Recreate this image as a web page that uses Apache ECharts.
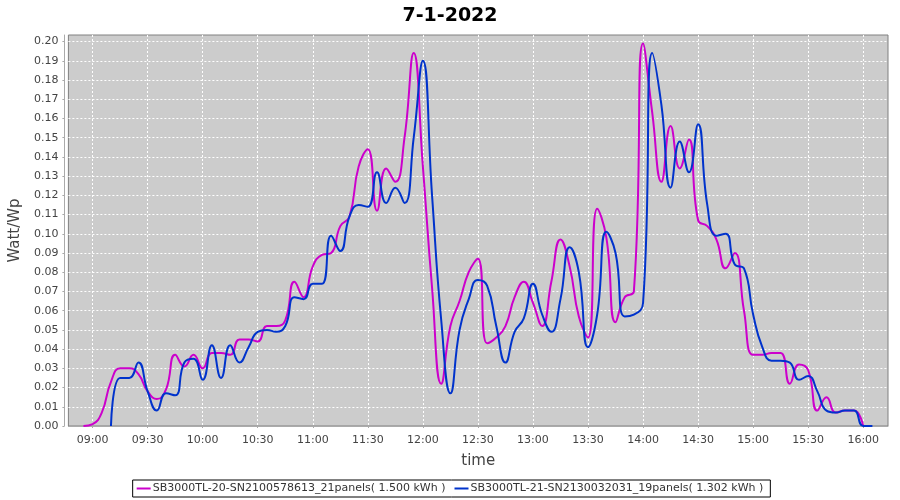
<!DOCTYPE html>
<html><head><meta charset="utf-8">
<script src="https://cdn.jsdelivr.net/npm/echarts@6/dist/echarts.min.js"></script>
<style>html,body{margin:0;padding:0;background:#fff}#c{width:900px;height:500px}</style>
</head><body><div id="c"></div>
<script>
const titleText = '7-1-2022';
const seriesNames = [
  'SB3000TL-20-SN2100578613_21panels( 1.500 kWh )',
  'SB3000TL-21-SN2130032031_19panels( 1.302 kWh )'
];
const timesA = ['08:55','09:00','09:05','09:10','09:15','09:20','09:25','09:30','09:35','09:40','09:45','09:50','09:55',
  '10:00','10:05','10:10','10:15','10:20','10:25','10:30','10:35','10:40','10:45','10:50','10:55',
  '11:00','11:05','11:10','11:15','11:20','11:25','11:30','11:35','11:40','11:45','11:50','11:55',
  '12:00','12:05','12:10','12:15','12:20','12:25','12:30','12:35','12:40','12:45','12:50','12:55',
  '13:00','13:05','13:10','13:15','13:20','13:25','13:30','13:35','13:40','13:45','13:50','13:55',
  '14:00','14:05','14:10','14:15','14:20','14:25','14:30','14:35','14:40','14:45','14:50','14:55',
  '15:00','15:05','15:10','15:15','15:20','15:25','15:30','15:35','15:40','15:45','15:50','15:55','16:00'];
const valuesA = [0.000,0.001,0.007,0.023,0.030,0.030,0.027,0.018,0.014,0.019,0.037,0.031,0.037,
  0.030,0.038,0.038,0.037,0.045,0.045,0.044,0.052,0.052,0.055,0.075,0.067,
  0.083,0.089,0.090,0.104,0.109,0.135,0.144,0.112,0.134,0.127,0.150,0.194,
  0.135,0.072,0.022,0.052,0.065,0.080,0.087,0.043,0.046,0.052,0.067,0.075,
  0.064,0.052,0.075,0.097,0.083,0.057,0.046,0.113,0.098,0.054,0.067,0.070,
  0.199,0.163,0.127,0.156,0.134,0.149,0.107,0.104,0.097,0.082,0.090,0.060,
  0.037,0.037,0.038,0.038,0.022,0.032,0.029,0.008,0.015,0.007,0.008,0.008,0.000];
const timesB = ['09:10','09:15','09:20','09:25','09:30','09:35','09:40','09:45','09:50','09:55',
  '10:00','10:05','10:10','10:15','10:20','10:25','10:30','10:35','10:40','10:45','10:50','10:55',
  '11:00','11:05','11:10','11:15','11:20','11:25','11:30','11:35','11:40','11:45','11:50','11:55',
  '12:00','12:05','12:10','12:15','12:20','12:25','12:30','12:35','12:40','12:45','12:50','12:55',
  '13:00','13:05','13:10','13:15','13:20','13:25','13:30','13:35','13:40','13:45','13:50','13:55',
  '14:00','14:05','14:10','14:15','14:20','14:25','14:30','14:35','14:40','14:45','14:50','14:55',
  '15:00','15:05','15:10','15:15','15:20','15:25','15:30','15:35','15:40','15:45','15:50','15:55','16:00','16:05'];
const valuesB = [0.000,0.025,0.025,0.033,0.018,0.008,0.017,0.016,0.033,0.035,
  0.024,0.042,0.025,0.042,0.033,0.041,0.049,0.050,0.049,0.052,0.067,0.066,
  0.074,0.074,0.099,0.091,0.109,0.115,0.114,0.132,0.116,0.124,0.116,0.150,
  0.190,0.120,0.055,0.017,0.050,0.066,0.076,0.073,0.052,0.033,0.049,0.056,
  0.074,0.058,0.049,0.066,0.093,0.080,0.041,0.058,0.101,0.090,0.057,0.058,
  0.064,0.194,0.167,0.124,0.148,0.132,0.157,0.115,0.099,0.100,0.084,0.082,
  0.058,0.041,0.034,0.034,0.033,0.024,0.026,0.018,0.008,0.007,0.008,0.008,0.000,0.000];
const xTickLabels = ['09:00','09:30','10:00','10:30','11:00','11:30','12:00','12:30','13:00','13:30','14:00','14:30','15:00','15:30','16:00'];
const yTickValues = [0.00,0.01,0.02,0.03,0.04,0.05,0.06,0.07,0.08,0.09,0.10,0.11,0.12,0.13,0.14,0.15,0.16,0.17,0.18,0.19,0.20];
const colors = ['#cc00cc', '#0033cc'];

function toMin(s){ const p = s.split(':'); return (+p[0])*60 + (+p[1]); }
function fmt(m){ const h = Math.floor(m/60), mm = Math.round(m - h*60); return (h<10?'0':'')+h+':'+(mm<10?'0':'')+mm; }
const xTicks = xTickLabels.map(toMin);
const dataA = timesA.map((t,i)=>[toMin(t), valuesA[i]]);
const dataB = timesB.map((t,i)=>[toMin(t), valuesB[i]]);

const font = 'DejaVu Sans';
const chart = echarts.init(document.getElementById('c'), null, {renderer:'canvas'});
chart.setOption({
  animation: false,
  backgroundColor: '#ffffff',
  title: { text: titleText, left: 'center', top: 2,
    textStyle: { fontFamily: font, fontSize: 19, fontWeight: 'bold', color: '#000' } },
  legend: {
    bottom: 3, left: 'center',
    data: seriesNames,
    icon: 'rect', itemWidth: 14, itemHeight: 2, itemGap: 9,
    borderColor: '#000', borderWidth: 1, padding: [3, 7, 3, 4],
    textStyle: { fontFamily: font, fontSize: 11, color: '#333', padding: [0,0,0,-3] }
  },
  grid: { left: 68, right: 12, top: 35, bottom: 74, show: true,
    backgroundColor: '#cccccc', borderColor: '#808080', borderWidth: 1 },
  xAxis: {
    type: 'value', min: 526.8, max: 973.5, offset: 4,
    name: 'time', nameLocation: 'middle', nameGap: 24,
    nameTextStyle: { fontFamily: font, fontSize: 15, color: '#444' },
    axisLine: { show: true, lineStyle: { color: '#aaaaaa', width: 1 } },
    axisTick: { show: true, length: 2, customValues: xTicks, lineStyle: { color: '#aaaaaa' } },
    axisLabel: { customValues: xTicks, formatter: v => fmt(v), margin: 5,
      fontFamily: font, fontSize: 11, color: '#444' },
    splitLine: { show: true, lineStyle: { color: '#ffffff', type: [2, 2], width: 1 } }
  },
  yAxis: {
    type: 'value', min: 0, max: 0.2034, offset: 4,
    name: 'Watt/Wp', nameLocation: 'middle', nameGap: 35,
    nameTextStyle: { fontFamily: font, fontSize: 15, color: '#444' },
    axisLine: { show: true, lineStyle: { color: '#aaaaaa', width: 1 } },
    axisTick: { show: true, length: 2, customValues: yTickValues, lineStyle: { color: '#aaaaaa' } },
    axisLabel: { customValues: yTickValues, formatter: v => v.toFixed(2), margin: 6,
      fontFamily: font, fontSize: 11, color: '#444' },
    splitLine: { show: true, lineStyle: { color: '#ffffff', type: [2, 2], width: 1 } }
  },
  series: [
    { name: seriesNames[0], type: 'line', data: dataA, smooth: 0.5, showSymbol: false,
      lineStyle: { color: colors[0], width: 2 }, itemStyle: { color: colors[0] } },
    { name: seriesNames[1], type: 'line', data: dataB, smooth: 0.5, showSymbol: false,
      lineStyle: { color: colors[1], width: 2 }, itemStyle: { color: colors[1] } }
  ]
});
</script></body></html>
